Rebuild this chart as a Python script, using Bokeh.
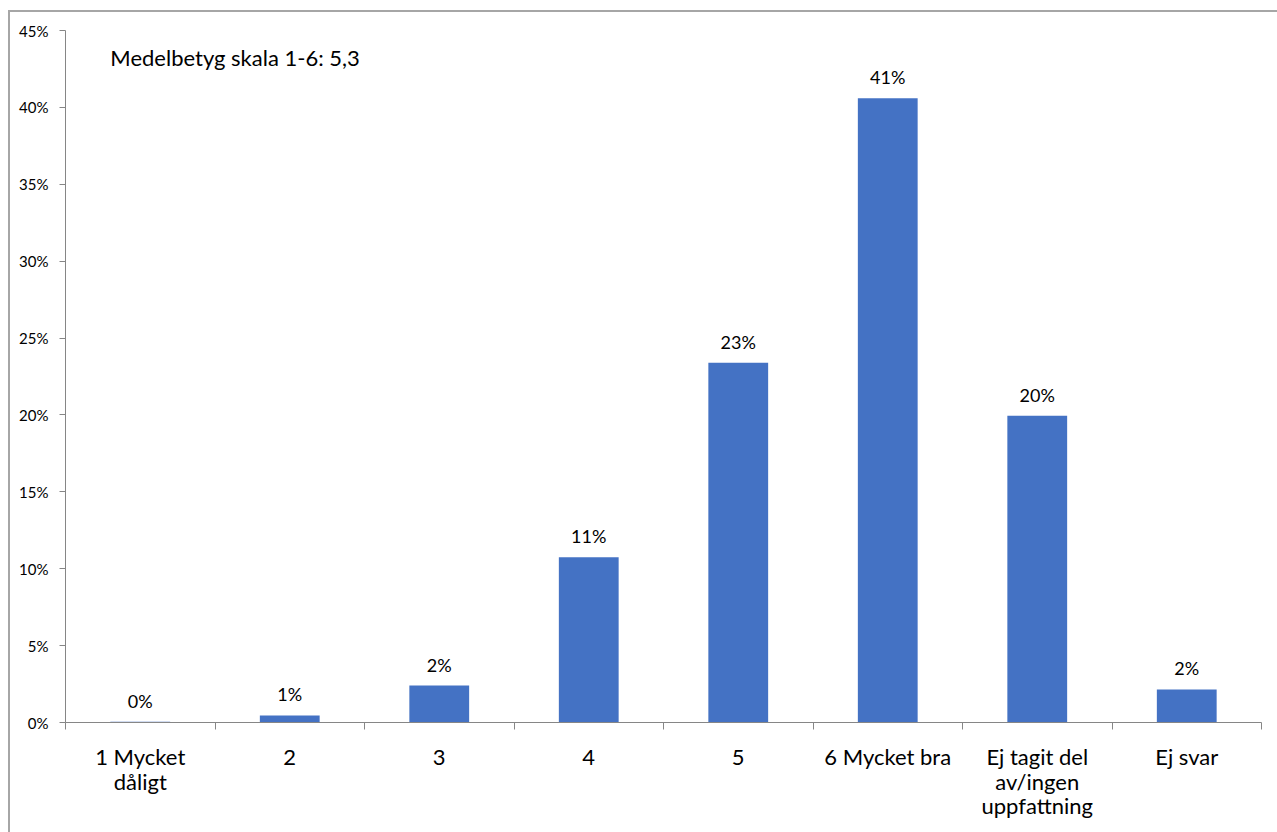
from bokeh.plotting import figure
from bokeh.models import ColumnDataSource, FixedTicker, NumeralTickFormatter, Label, Range1d, LinearAxis
from bokeh.core.properties import value
from bokeh.embed import file_html
from bokeh.resources import INLINE

categories = ["1 Mycket\ndåligt", "2", "3", "4", "5", "6 Mycket bra", "Ej tagit del\nav/ingen\nuppfattning", "Ej svar"]
shares = [0.0005, 0.0046, 0.024, 0.1075, 0.234, 0.406, 0.1995, 0.0215]
labels = ["0%", "1%", "2%", "11%", "23%", "41%", "20%", "2%"]
y_ticks = [0, 0.05, 0.10, 0.15, 0.20, 0.25, 0.30, 0.35, 0.40, 0.45]
note = "Medelbetyg skala 1-6: 5,3"

FONT = "Lato"
n = len(categories)
centers = [i + 0.5 for i in range(n)]

src = ColumnDataSource(dict(x=centers, top=shares, lab=labels))

p = figure(width=1277, height=832, output_backend="svg", toolbar_location=None,
           x_range=Range1d(0, n), y_range=Range1d(0, 0.45),
           min_border_left=65, min_border_right=16, min_border_top=30, min_border_bottom=110)
p.outline_line_color = None
p.grid.visible = False

p.vbar(x="x", top="top", bottom=0, width=0.4, source=src, fill_color="#4472C4", line_color=None)
p.text(x="x", y="top", text="lab", source=src, text_align="center", text_baseline="bottom",
       y_offset=-10, text_font=value(FONT), text_font_size="18px", text_color="#000000")

# category labels: one stacked axis per text line, so line spacing can be controlled
split = [cat.split("\n") for cat in categories]
max_lines = max(len(s) for s in split)
standoffs = [13, -5, -6]
for k in range(max_lines):
    ticks = [c for c, s in zip(centers, split) if len(s) > k]
    over = {c: s[k] for c, s in zip(centers, split) if len(s) > k}
    if k == 0:
        ax = p.xaxis[0]
        ax.ticker = FixedTicker(ticks=ticks, minor_ticks=list(range(n + 1)))
        ax.minor_tick_out = 7
        ax.minor_tick_in = 0
        ax.minor_tick_line_color = "#868686"
        ax.axis_line_color = "#868686"
    else:
        ax = LinearAxis(ticker=FixedTicker(ticks=ticks))
        ax.axis_line_color = None
        ax.minor_tick_line_color = None
        p.add_layout(ax, "below")
    ax.major_label_overrides = over
    ax.major_tick_line_color = None
    ax.major_tick_out = 0
    ax.major_tick_in = 0
    ax.major_label_standoff = standoffs[k]
    ax.major_label_text_font = FONT
    ax.major_label_text_font_size = "22px"
    ax.major_label_text_color = "#000000"

ya = p.yaxis[0]
ya.ticker = FixedTicker(ticks=y_ticks)
ya.formatter = NumeralTickFormatter(format="0%")
ya.major_tick_out = 6
ya.major_tick_in = 0
ya.minor_tick_line_color = None
ya.major_tick_line_color = "#868686"
ya.axis_line_color = "#868686"
ya.major_label_standoff = 11
ya.major_label_text_font = FONT
ya.major_label_text_font_size = "15px"
ya.major_label_text_color = "#000000"

p.add_layout(Label(x=0.30, y=0.4325, text=note, text_font=FONT, text_font_size="22px",
                   text_baseline="middle", text_align="left", text_color="#000000"))

# outer chart frame (only top and left edges are visible in the cropped picture)
p.stylesheets = [":host { position: relative; } :host::after { content: ''; position: absolute; "
                 "left: 8px; top: 10px; right: 0; bottom: 0; border-left: 2px solid #a6a6a6; "
                 "border-top: 2px solid #a6a6a6; pointer-events: none; }"]

open("out.html", "w").write(file_html(p, INLINE))
